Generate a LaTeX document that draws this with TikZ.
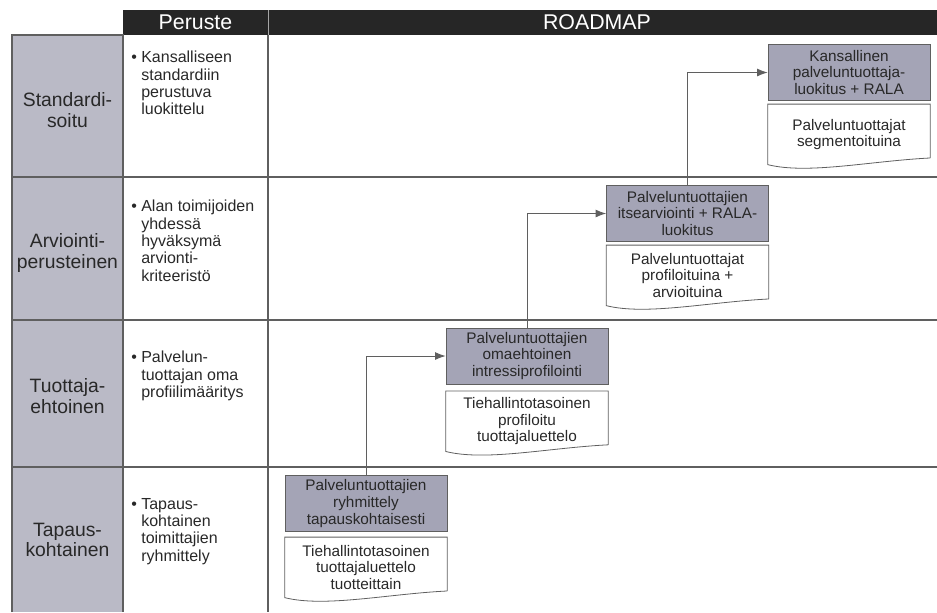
\documentclass[tikz,border=0pt]{standalone}
\usepackage{fontspec}
\setmainfont{Liberation Sans}
\usetikzlibrary{arrows.meta, positioning}

\definecolor{headbg}{RGB}{38,38,38}
\definecolor{sidebg}{RGB}{186,186,198}
\definecolor{phasebg}{RGB}{164,164,182}
\definecolor{linegray}{RGB}{95,95,95}
\definecolor{txtgray}{RGB}{40,40,40}
\newcommand{\bulind}{\phantom{\textbullet\ }}

\begin{document}
\begin{tikzpicture}[
    x=0.75pt, y=-0.75pt,
    grid/.style={draw=linegray, line width=0.8pt},
    head/.style={text=white, font=\fontsize{16}{18}\selectfont},
    rowlabel/.style={text=txtgray, align=center, 
    font=\fontsize{14.5}{15.5}\selectfont},
    crit/.style={anchor=north west, text=txtgray, align=left, inner sep=0pt,
    font=\fontsize{12}{13}\selectfont},
    phase/.style={draw=linegray, fill=phasebg, text=txtgray, align=center,
    minimum width=121.5pt, minimum height=42pt, inner sep=1pt,
    font=\fontsize{11.5}{12.5}\selectfont},
    doc/.style={text=txtgray, align=center, 
    minimum width=121.5pt, minimum height=45pt, inner sep=1pt,
    font=\fontsize{11.5}{12.5}\selectfont},
    docline/.style={draw=linegray, line width=0.6pt},
    flow/.style={draw=linegray, line width=0.7pt, -{Latex[length=8pt,width=6pt]}}
    ]
    \useasboundingbox (0,0) rectangle (937,612);

    % table
    \fill[headbg]  (123,10) rectangle (937,35);
    \fill[sidebg]  (12,35)  rectangle (123,612);
    \draw[gray!70] (268,10) -- (268,35);
    \foreach \y in {177,320,467}
      \draw[grid] (12,\y) -- (937,\y);
    \draw[grid] (12,612) -- (12,35) -- (123,35) -- (123,612);
    \draw[grid] (268,35) -- (268,612);

    \node[head]     (hp)  at (195.5,22.5)  {Peruste};
    \node[head]     (hr)  at (597,22.5)    {ROADMAP};

    \node[rowlabel] (r1)  at (67.5,110)    {Standardi-\\soitu};
    \node[rowlabel] (r2)  at (67.5,253)    {Arviointi-\\perusteinen};
    \node[rowlabel] (r3)  at (67.5,396)    {Tuottaja-\\ehtoinen};
    \node[rowlabel] (r4)  at (67.5,540)    {Tapaus-\\kohtainen};

    \node[crit]     (c1)  at (131,51)  {\textbullet\ Kansalliseen\\\bulind standardiin\\\bulind perustuva\\\bulind luokittelu};
    \node[crit]     (c2)  at (131,200) {\textbullet\ Alan toimijoiden\\\bulind yhdessä\\\bulind hyväksymä\\\bulind arvionti-\\\bulind kriteeristö};
    \node[crit]     (c3)  at (131,351) {\textbullet\ Palvelun-\\\bulind tuottajan oma\\\bulind profiilimääritys};
    \node[crit]     (c4)  at (131,498) {\textbullet\ Tapaus-\\\bulind kohtainen\\\bulind toimittajien\\\bulind ryhmittely};

    % roadmap steps
    \node[phase]  (p1)  at (849,72.5)    {Kansallinen\\palveluntuottaja-\\luokitus + RALA};
    \node[phase]  (p2)  at (687.5,213.5) {Palveluntuottajien\\itsearviointi + RALA-\\luokitus};
    \node[phase]  (p3)  at (527,356)     {Palveluntuottajien\\omaehtoinen\\intressiprofilointi};
    \node[phase]  (p4)  at (366,503.5)   {Palveluntuottajien\\ryhmittely\\tapauskohtaisesti};

    \node[doc]    (d1)  [below=2.5pt of p1]  {Palveluntuottajat\\segmentoituina};
    \node[doc]    (d2)  [below=2.5pt of p2]  {Palveluntuottajat\\profiloituina +\\arvioituina};
    \node[doc]    (d3)  [below=5pt of p3]    {Tiehallintotasoinen\\profiloitu\\tuottajaluettelo};
    \node[doc]    (d4)  [below=4pt of p4]    {Tiehallintotasoinen\\tuottajaluettelo\\tuotteittain};

    \foreach \d in {d1,d2,d3,d4}
      \draw[docline] ([yshift=5pt]\d.south east) -- (\d.north east) -- (\d.north west)
        -- (\d.south west) .. controls +(40,10) and +(-60,3) .. ([yshift=5pt]\d.south east);

    \draw[flow] (p4) |- (p3);
    \draw[flow] (p3) |- (p2);
    \draw[flow] (p2) |- (p1);
  \end{tikzpicture}
\end{document}
